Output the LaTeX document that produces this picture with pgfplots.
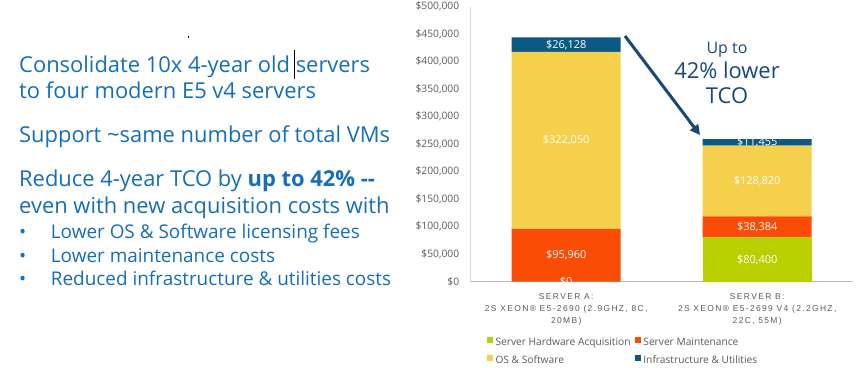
\documentclass[border=0pt]{standalone}
\usepackage{fontspec}
\usepackage{pgfplots}
\pgfplotsset{compat=1.18}
\usepackage{pgfplotstable}
\usetikzlibrary{arrows.meta}
\setmainfont{Open Sans}
\newfontfamily\osans{Open Sans}
\newfontfamily\spaced[LetterSpace=16]{Liberation Sans}
\definecolor{hwgreen}{RGB}{186,208,0}
\definecolor{mnt}{RGB}{250,76,4}
\definecolor{oss}{RGB}{245,208,76}
\definecolor{infra}{RGB}{12,90,132}
\definecolor{txtblue}{RGB}{22,110,184}
\definecolor{navy}{RGB}{24,72,122}
\definecolor{tickgray}{RGB}{90,90,90}

\pgfplotstableread{
x hw mnt os infra
0 0 95960 322050 26128
1 80400 38384 128820 11455
}\costs
\pgfplotstableread{
x y label
0 0 0
0 47980 95,960
0 256985 322,050
0 431074 26,128
1 40200 80,400
1 99592 38,384
1 183194 128,820
1 253331.5 11,455
}\labels

\begin{document}
\begin{tikzpicture}
\fill[white] (0,0) rectangle (857bp,368bp);
\path[use as bounding box] (0,0) rectangle (857bp,368bp);

% left text
\begin{scope}[every node/.style={anchor=base west, inner sep=0pt, text=txtblue, font=\osans\fontsize{22}{26}\selectfont}]
\node at (19bp,295.7bp) {Consolidate 10x 4-year old servers};
\node at (19bp,269bp) {to four modern E5 v4 servers};
\node at (19bp,225.3bp) {Support \textasciitilde same number of total VMs};
\node at (19bp,181.3bp) {Reduce 4-year TCO by \textbf{up to 42\% --}};
\node at (19bp,154.7bp) {even with new acquisition costs with};
\end{scope}
\begin{scope}[every node/.style={anchor=base west, inner sep=0pt, text=txtblue, font=\osans\fontsize{19}{22}\selectfont}]
\node at (19bp,129bp) {•};
\node at (50.7bp,129bp) {Lower OS \& Software licensing fees};
\node at (19bp,105.3bp) {•};
\node at (50.7bp,105.3bp) {Lower maintenance costs};
\node at (19bp,82.3bp) {•};
\node at (50.7bp,82.3bp) {Reduced infrastructure \& utilities costs};
\end{scope}
\draw[black, line width=1bp] (294.3bp,318bp) -- (294.3bp,288.7bp);
\fill[black] (187.5bp,330bp) rectangle (189bp,331.5bp);

\begin{axis}[
  at={(470.7bp,86.3bp)}, anchor=south west,
  scale only axis, width=382bp, height=275bp,
  ybar stacked, bar width=109bp,
  xmin=-0.5, xmax=1.5, ymin=0, ymax=500000,
  xtick={0,1},
  xticklabels={{SERVER A:\\2S XEON® E5-2690 (2.9GHZ, 8C,\\20MB)},{SERVER B:\\2S XEON® E5-2699 V4 (2.2GHZ,\\22C, 55M)}},
  xticklabel style={align=center, font=\spaced\fontsize{8.5}{12.2}\selectfont, text=tickgray, yshift=-8bp},
  ytick={0,50000,...,500000},
  scaled y ticks=false,
  yticklabel={\$\pgfmathprintnumber{\tick}},
  /pgf/number format/fixed,
  /pgf/number format/1000 sep={,},
  /pgf/number format/assume math mode=true,
  yticklabel style={font=\osans\fontsize{10.3}{12}\selectfont, text=tickgray, xshift=-8bp},
  axis x line*=bottom, axis y line*=left,
  axis line style={-},
  x axis line style={draw=black!28, line width=1bp},
  y axis line style={draw=black!15, line width=1bp},
  major tick length=0pt,
]
\addplot[fill=hwgreen, draw=none] table[x=x,y=hw]{\costs};
\addplot[fill=mnt, draw=none] table[x=x,y=mnt]{\costs};
\addplot[fill=oss, draw=none] table[x=x,y=os]{\costs};
\addplot[fill=infra, draw=none] table[x=x,y=infra]{\costs};
\end{axis}

\begin{axis}[
  at={(470.7bp,86.3bp)}, anchor=south west,
  scale only axis, width=382bp, height=275bp,
  xmin=-0.5, xmax=1.5, ymin=0, ymax=500000,
  hide axis, clip=false,
  legend columns=2,
  legend cell align=left,
  legend style={at={(0.0414,-0.195)}, anchor=north west, draw=none, fill=none,
    inner sep=0pt, font=\osans\fontsize{10.25}{12}\selectfont, text=tickgray,
    nodes={inner sep=1.5bp, text height=8bp, text depth=2bp},
    row sep=5.3bp,
    /tikz/every odd column/.append style={column sep=1.5bp},
    /tikz/every even column/.append style={column sep=2.5bp}},
]
\addlegendimage{legend image code/.code={\fill[hwgreen] (0bp,-0.3bp) rectangle (5.4bp,5.1bp);}}
\addlegendimage{legend image code/.code={\fill[mnt] (0bp,-0.3bp) rectangle (5.4bp,5.1bp);}}
\addlegendimage{legend image code/.code={\fill[oss] (0bp,-0.3bp) rectangle (5.4bp,5.1bp);}}
\addlegendimage{legend image code/.code={\fill[infra] (0bp,-0.3bp) rectangle (5.4bp,5.1bp);}}
\legend{Server Hardware Acquisition, Server Maintenance, OS \& Software, Infrastructure \& Utilities}
\addplot[forget plot, only marks, mark=*, mark size=0pt, mark options={draw=none,fill=none},
  nodes near coords={\$\pgfplotspointmeta},
  point meta=explicit symbolic,
  every node near coord/.style={anchor=center, text=white, font=\osans\fontsize{11}{13}\selectfont}]
  table[x=x,y=y,meta=label]{\labels};
\end{axis}

% annotation
\draw[navy, line width=3bp, -{Triangle[length=10bp,width=10bp]}] (625bp,332bp) -- (700bp,233bp);
\node[anchor=base, text=navy, inner sep=0pt, font=\osans\fontsize{16}{18}\selectfont] at (727bp,314.7bp) {Up to};
\node[anchor=base, text=navy, inner sep=0pt, font=\osans\fontsize{22}{26}\selectfont] at (727bp,289.7bp) {42\% lower};
\node[anchor=base, text=navy, inner sep=0pt, font=\osans\fontsize{22}{26}\selectfont] at (727bp,264bp) {TCO};
\end{tikzpicture}
\end{document}
